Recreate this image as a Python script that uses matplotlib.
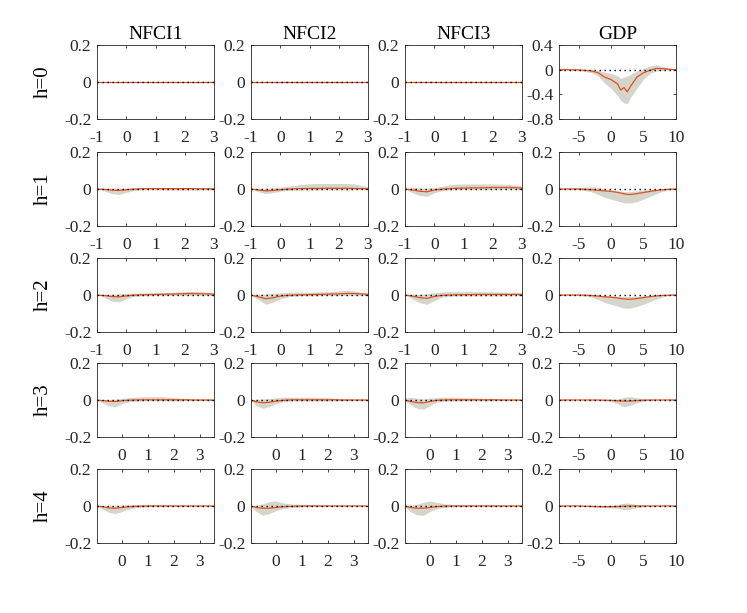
import numpy as np
import matplotlib
matplotlib.use("Agg")
import matplotlib.pyplot as plt

plt.rcParams['font.family'] = ['Liberation Serif', 'DejaVu Serif']
plt.rcParams['axes.unicode_minus'] = False

# horisont-akser
x_nfci = [-1, -0.75, -0.5, -0.25, 0, 0.25, 0.5, 0.75, 1, 1.25, 1.5, 1.75,
          2, 2.25, 2.5, 2.75, 3, 3.25, 3.5]
x_gdp = [-8, -7, -6, -5, -4, -3, -2, -1, 0, 1, 1.5, 2, 2.5, 3, 4, 5, 6, 7,
         8, 9, 10]

col_titles = ['NFCI1', 'NFCI2', 'NFCI3', 'GDP']
row_labels = ['h=0', 'h=1', 'h=2', 'h=3', 'h=4']

# NFCI1: median, nedre og ovre band (ei liste per h)
mid_n1 = [
    [0, 0, 0, 0, 0, 0, 0, 0, 0, 0, 0, 0, 0, 0, 0, 0, 0, 0, 0],
    [0, -0.002, -0.006, -0.008, -0.004, -0.001, 0.001, 0.002, 0.002, 0.002, 0.002, 0.002, 0.002, 0.002, 0.001, 0.001, 0.001, 0, 0],
    [0, -0.003, -0.008, -0.01, -0.005, -0.001, 0.001, 0.002, 0.003, 0.004, 0.005, 0.006, 0.007, 0.008, 0.007, 0.006, 0.005, 0.004, 0.003],
    [0, -0.003, -0.007, -0.008, -0.004, -0.001, 0, 0.001, 0.001, 0.001, 0.001, 0.001, 0.001, 0.001, 0.001, 0, 0, 0, 0],
    [0, -0.004, -0.01, -0.012, -0.008, -0.004, -0.002, -0.001, 0, 0, 0, 0, 0, 0, 0, 0, 0, 0, 0],
]
lo_n1 = [
    [0, -0.001, -0.002, -0.002, -0.002, -0.002, -0.002, -0.002, -0.002, -0.002, -0.002, -0.002, -0.002, -0.002, -0.002, -0.002, -0.001, -0.001, 0],
    [0, -0.01, -0.025, -0.03, -0.018, -0.008, -0.005, -0.004, -0.004, -0.005, -0.006, -0.006, -0.006, -0.006, -0.005, -0.005, -0.004, -0.003, -0.002],
    [0, -0.012, -0.033, -0.038, -0.02, -0.008, -0.005, -0.004, -0.003, -0.003, -0.003, -0.002, -0.002, -0.002, -0.002, -0.002, -0.002, -0.002, -0.001],
    [0, -0.015, -0.032, -0.036, -0.02, -0.01, -0.006, -0.005, -0.004, -0.004, -0.004, -0.004, -0.004, -0.004, -0.003, -0.003, -0.002, -0.002, -0.001],
    [0, -0.015, -0.035, -0.04, -0.03, -0.018, -0.01, -0.006, -0.004, -0.003, -0.003, -0.002, -0.002, -0.002, -0.002, -0.001, -0.001, -0.001, -0.001],
]
hi_n1 = [
    [0, 0.001, 0.002, 0.002, 0.002, 0.002, 0.002, 0.002, 0.002, 0.002, 0.002, 0.002, 0.002, 0.002, 0.002, 0.002, 0.001, 0.001, 0],
    [0, 0.004, 0.005, 0.005, 0.005, 0.006, 0.006, 0.005, 0.005, 0.006, 0.007, 0.008, 0.008, 0.007, 0.006, 0.005, 0.004, 0.003, 0.002],
    [0, 0.003, 0.004, 0.006, 0.009, 0.01, 0.011, 0.012, 0.012, 0.013, 0.014, 0.016, 0.019, 0.02, 0.018, 0.015, 0.012, 0.009, 0.006],
    [0, 0.002, 0.003, 0.005, 0.008, 0.012, 0.015, 0.017, 0.018, 0.018, 0.018, 0.016, 0.013, 0.01, 0.008, 0.006, 0.004, 0.003, 0.002],
    [0, 0.002, 0.002, 0.003, 0.005, 0.007, 0.008, 0.008, 0.008, 0.007, 0.006, 0.005, 0.004, 0.003, 0.003, 0.002, 0.002, 0.001, 0.001],
]

# NFCI2
mid_n2 = [
    [0, 0, 0, 0, 0, 0, 0, 0, 0, 0, 0, 0, 0, 0, 0, 0, 0, 0, 0],
    [0, -0.005, -0.01, -0.008, -0.004, -0.001, 0.001, 0.002, 0.003, 0.003, 0.004, 0.004, 0.004, 0.004, 0.003, 0.002, 0.001, 0, 0],
    [0, -0.01, -0.02, -0.015, -0.006, -0.002, 0, 0.001, 0.002, 0.003, 0.004, 0.005, 0.006, 0.008, 0.008, 0.006, 0.004, 0.002, 0.001],
    [0, -0.01, -0.015, -0.012, -0.006, -0.002, 0, 0.001, 0.001, 0.001, 0.001, 0.001, 0.001, 0.001, 0, 0, 0, 0, 0],
    [0, -0.008, -0.012, -0.012, -0.008, -0.004, -0.002, -0.001, 0, 0, 0, 0, 0, 0, 0, 0, 0, 0, 0],
]
lo_n2 = [
    [0, -0.001, -0.002, -0.003, -0.004, -0.004, -0.004, -0.004, -0.004, -0.004, -0.004, -0.004, -0.004, -0.003, -0.003, -0.002, -0.001, -0.001, 0],
    [0, -0.015, -0.025, -0.02, -0.012, -0.008, -0.006, -0.005, -0.005, -0.005, -0.005, -0.005, -0.005, -0.005, -0.004, -0.003, -0.002, -0.001, 0],
    [0, -0.025, -0.05, -0.04, -0.02, -0.01, -0.006, -0.004, -0.004, -0.004, -0.003, -0.003, -0.003, -0.002, -0.002, -0.002, -0.002, -0.001, 0],
    [0, -0.03, -0.045, -0.035, -0.02, -0.01, -0.006, -0.005, -0.005, -0.005, -0.005, -0.005, -0.005, -0.005, -0.004, -0.003, -0.002, -0.001, 0],
    [0, -0.03, -0.05, -0.04, -0.025, -0.015, -0.01, -0.007, -0.005, -0.004, -0.003, -0.003, -0.002, -0.002, -0.002, -0.001, -0.001, -0.001, 0],
]
hi_n2 = [
    [0, 0.001, 0.002, 0.003, 0.004, 0.004, 0.004, 0.004, 0.004, 0.004, 0.004, 0.004, 0.004, 0.003, 0.003, 0.002, 0.001, 0.001, 0],
    [0, 0.003, 0.004, 0.006, 0.01, 0.015, 0.02, 0.025, 0.028, 0.03, 0.03, 0.03, 0.03, 0.03, 0.028, 0.02, 0.012, 0.006, 0.003],
    [0, 0.004, 0.006, 0.009, 0.012, 0.014, 0.015, 0.015, 0.015, 0.016, 0.017, 0.019, 0.022, 0.025, 0.022, 0.015, 0.01, 0.006, 0.003],
    [0, 0.004, 0.006, 0.008, 0.012, 0.015, 0.015, 0.015, 0.015, 0.015, 0.014, 0.013, 0.012, 0.01, 0.008, 0.006, 0.004, 0.002, 0.001],
    [0, 0.005, 0.012, 0.024, 0.027, 0.018, 0.012, 0.01, 0.009, 0.008, 0.007, 0.006, 0.005, 0.004, 0.003, 0.002, 0.002, 0.001, 0],
]

# NFCI3
mid_n3 = [
    [0, 0, 0, 0, 0, 0, 0, 0, 0, 0, 0, 0, 0, 0, 0, 0, 0, 0, 0],
    [0, -0.005, -0.012, -0.015, -0.006, -0.001, 0.002, 0.004, 0.005, 0.006, 0.006, 0.007, 0.008, 0.008, 0.008, 0.007, 0.005, 0.003, 0.002],
    [0, -0.006, -0.014, -0.018, -0.008, -0.002, 0, 0.001, 0.002, 0.002, 0.003, 0.003, 0.003, 0.003, 0.003, 0.003, 0.003, 0.002, 0.001],
    [0, -0.008, -0.014, -0.015, -0.008, -0.002, 0, 0.001, 0.001, 0.001, 0.001, 0.001, 0.001, 0.001, 0.001, 0, 0, 0, 0],
    [0, -0.008, -0.012, -0.012, -0.008, -0.003, -0.001, 0, 0, 0, 0, 0, 0, 0, 0, 0, 0, 0, 0],
]
lo_n3 = [
    [0, -0.001, -0.002, -0.003, -0.003, -0.003, -0.003, -0.003, -0.003, -0.003, -0.003, -0.003, -0.003, -0.003, -0.002, -0.002, -0.001, -0.001, 0],
    [0, -0.02, -0.035, -0.04, -0.02, -0.01, -0.006, -0.004, -0.003, -0.003, -0.003, -0.003, -0.002, -0.002, -0.002, -0.002, -0.002, -0.001, 0],
    [0, -0.02, -0.042, -0.05, -0.03, -0.012, -0.006, -0.005, -0.005, -0.005, -0.005, -0.005, -0.005, -0.005, -0.005, -0.004, -0.003, -0.002, -0.001],
    [0, -0.025, -0.045, -0.05, -0.03, -0.012, -0.007, -0.005, -0.005, -0.004, -0.004, -0.004, -0.004, -0.004, -0.003, -0.003, -0.002, -0.002, -0.001],
    [0, -0.03, -0.048, -0.05, -0.03, -0.015, -0.008, -0.005, -0.004, -0.003, -0.003, -0.002, -0.002, -0.002, -0.002, -0.002, -0.001, -0.001, 0],
]
hi_n3 = [
    [0, 0.001, 0.002, 0.003, 0.003, 0.003, 0.003, 0.003, 0.003, 0.003, 0.003, 0.003, 0.003, 0.003, 0.002, 0.002, 0.001, 0.001, 0],
    [0, 0.008, 0.006, 0.004, 0.008, 0.015, 0.022, 0.026, 0.027, 0.027, 0.027, 0.027, 0.027, 0.026, 0.025, 0.022, 0.017, 0.01, 0.005],
    [0, 0.003, 0.004, 0.006, 0.012, 0.016, 0.018, 0.018, 0.018, 0.018, 0.018, 0.017, 0.017, 0.016, 0.015, 0.014, 0.012, 0.01, 0.008],
    [0.01, 0.015, 0.01, 0.006, 0.01, 0.013, 0.015, 0.015, 0.014, 0.013, 0.012, 0.011, 0.01, 0.009, 0.008, 0.006, 0.004, 0.003, 0.002],
    [0, 0.004, 0.01, 0.02, 0.027, 0.02, 0.013, 0.01, 0.008, 0.007, 0.006, 0.006, 0.006, 0.006, 0.006, 0.005, 0.004, 0.002, 0.001],
]

# GDP
mid_gdp = [
    [0, 0, -0.003, -0.005, -0.01, -0.02, -0.05, -0.12, -0.16, -0.23, -0.33, -0.29, -0.36, -0.27, -0.12, -0.05, -0.01, 0.02, 0.015, 0.005, 0],
    [0, 0, 0, 0, -0.002, -0.004, -0.007, -0.01, -0.013, -0.018, -0.022, -0.026, -0.029, -0.03, -0.025, -0.019, -0.013, -0.008, -0.004, -0.001, 0],
    [0, 0, 0, 0, -0.001, -0.003, -0.006, -0.01, -0.012, -0.016, -0.019, -0.021, -0.023, -0.023, -0.019, -0.014, -0.009, -0.005, -0.002, -0.001, 0],
    [0, 0, 0, 0, 0, 0, 0, -0.001, -0.002, -0.004, -0.005, -0.006, -0.006, -0.005, -0.003, -0.001, 0, 0, 0, 0, 0],
    [0, 0, 0, 0, -0.001, -0.002, -0.003, -0.004, -0.004, -0.003, -0.002, -0.001, 0, 0, 0, 0, 0, 0, 0, 0, 0],
]
lo_gdp = [
    [0, -0.005, -0.01, -0.015, -0.03, -0.05, -0.1, -0.22, -0.3, -0.42, -0.5, -0.54, -0.55, -0.45, -0.3, -0.15, -0.06, -0.02, -0.01, -0.005, 0],
    [0, 0, -0.002, -0.004, -0.008, -0.015, -0.03, -0.045, -0.055, -0.065, -0.07, -0.074, -0.076, -0.075, -0.068, -0.055, -0.04, -0.025, -0.012, -0.004, 0],
    [0, 0, -0.001, -0.003, -0.006, -0.012, -0.025, -0.04, -0.05, -0.06, -0.066, -0.07, -0.072, -0.07, -0.062, -0.05, -0.035, -0.022, -0.01, -0.003, 0],
    [0, 0, 0, 0, 0, -0.001, -0.002, -0.004, -0.008, -0.02, -0.03, -0.036, -0.034, -0.028, -0.015, -0.006, -0.002, -0.001, 0, 0, 0],
    [0, 0, 0, -0.001, -0.003, -0.005, -0.007, -0.008, -0.009, -0.012, -0.016, -0.02, -0.02, -0.016, -0.008, -0.003, -0.001, 0, 0, 0, 0],
]
hi_gdp = [
    [0, 0.005, 0.005, 0.005, 0.005, 0, -0.01, -0.04, -0.06, -0.1, -0.14, -0.12, -0.1, -0.08, -0.02, 0.02, 0.06, 0.08, 0.05, 0.02, 0.005],
    [0, 0.002, 0.004, 0.006, 0.01, 0.012, 0.008, 0, -0.005, -0.01, -0.012, -0.014, -0.015, -0.014, -0.01, -0.005, -0.002, 0, 0.001, 0.001, 0],
    [0, 0.001, 0.002, 0.002, 0.002, 0.002, 0, -0.002, -0.004, -0.006, -0.007, -0.008, -0.009, -0.008, -0.006, -0.004, -0.002, 0, 0, 0, 0],
    [0, 0, 0, 0, 0, 0.001, 0.002, 0.003, 0.004, 0.006, 0.01, 0.014, 0.017, 0.018, 0.012, 0.005, 0.002, 0.001, 0, 0, 0],
    [0, 0, 0, 0, 0, 0.001, 0.001, 0.002, 0.004, 0.008, 0.012, 0.015, 0.016, 0.014, 0.008, 0.003, 0.001, 0, 0, 0, 0],
]

mids = [mid_n1, mid_n2, mid_n3, mid_gdp]
los = [lo_n1, lo_n2, lo_n3, lo_gdp]
his = [hi_n1, hi_n2, hi_n3, hi_gdp]
xs = [x_nfci, x_nfci, x_nfci, x_gdp]

# Farger
band_col = '#d5d5cc'
line_col = '#e2501d'
ax_col = '#262626'

W, H = 747, 613
fig = plt.figure(figsize=(W / 100, H / 100), dpi=100)

col_left = [97, 251, 405, 559]
row_top = [45, 152, 258, 363, 469]
aw, ah = 117, 74

for r in range(5):
    for c in range(4):
        ax = fig.add_axes([col_left[c] / W, 1 - (row_top[r] + ah) / H, aw / W, ah / H])
        x = xs[c]
        ax.fill_between(x, los[c][r], his[c][r], color=band_col, lw=0)
        ax.plot(x, mids[c][r], color=line_col, lw=0.9)
        ax.axhline(0, color='k', lw=1.0, ls=(0, (1, 2.6)))

        if c == 3:
            ax.set_xlim(-8, 10)
            ax.set_xticks([-5, 0, 5, 10])
            ax.set_xticklabels(['-5', '0', '5', '10'])
        elif r <= 2:
            ax.set_xlim(-1, 3)
            ax.set_xticks([-1, 0, 1, 2, 3])
            ax.set_xticklabels(['-1', '0', '1', '2', '3'])
        else:
            ax.set_xlim(-0.96, 3.54)
            ax.set_xticks([0, 1, 2, 3])
            ax.set_xticklabels(['0', '1', '2', '3'])

        if c == 3 and r == 0:
            ax.set_ylim(-0.8, 0.4)
            ax.set_yticks([-0.8, -0.4, 0, 0.4])
            ax.set_yticklabels(['-0.8', '-0.4', '0', '0.4'])
        else:
            ax.set_ylim(-0.2, 0.2)
            ax.set_yticks([-0.2, 0, 0.2])
            ax.set_yticklabels(['-0.2', '0', '0.2'])

        for sp in ax.spines.values():
            sp.set_color(ax_col)
            sp.set_linewidth(0.6)
        ax.tick_params(direction='in', top=True, right=True, length=2.5,
                       width=0.6, color=ax_col, labelcolor=ax_col, labelsize=12.5)
        ax.tick_params(axis='x', pad=8)
        ax.tick_params(axis='y', pad=4)

        if r == 0:
            ax.set_title(col_titles[c], fontsize=14, pad=4, color='k')

    fig.text(43 / W, 1 - (row_top[r] + ah / 2) / H, row_labels[r], rotation=90,
             ha='center', va='center', fontsize=15)

fig.savefig('out.png', dpi=100)
